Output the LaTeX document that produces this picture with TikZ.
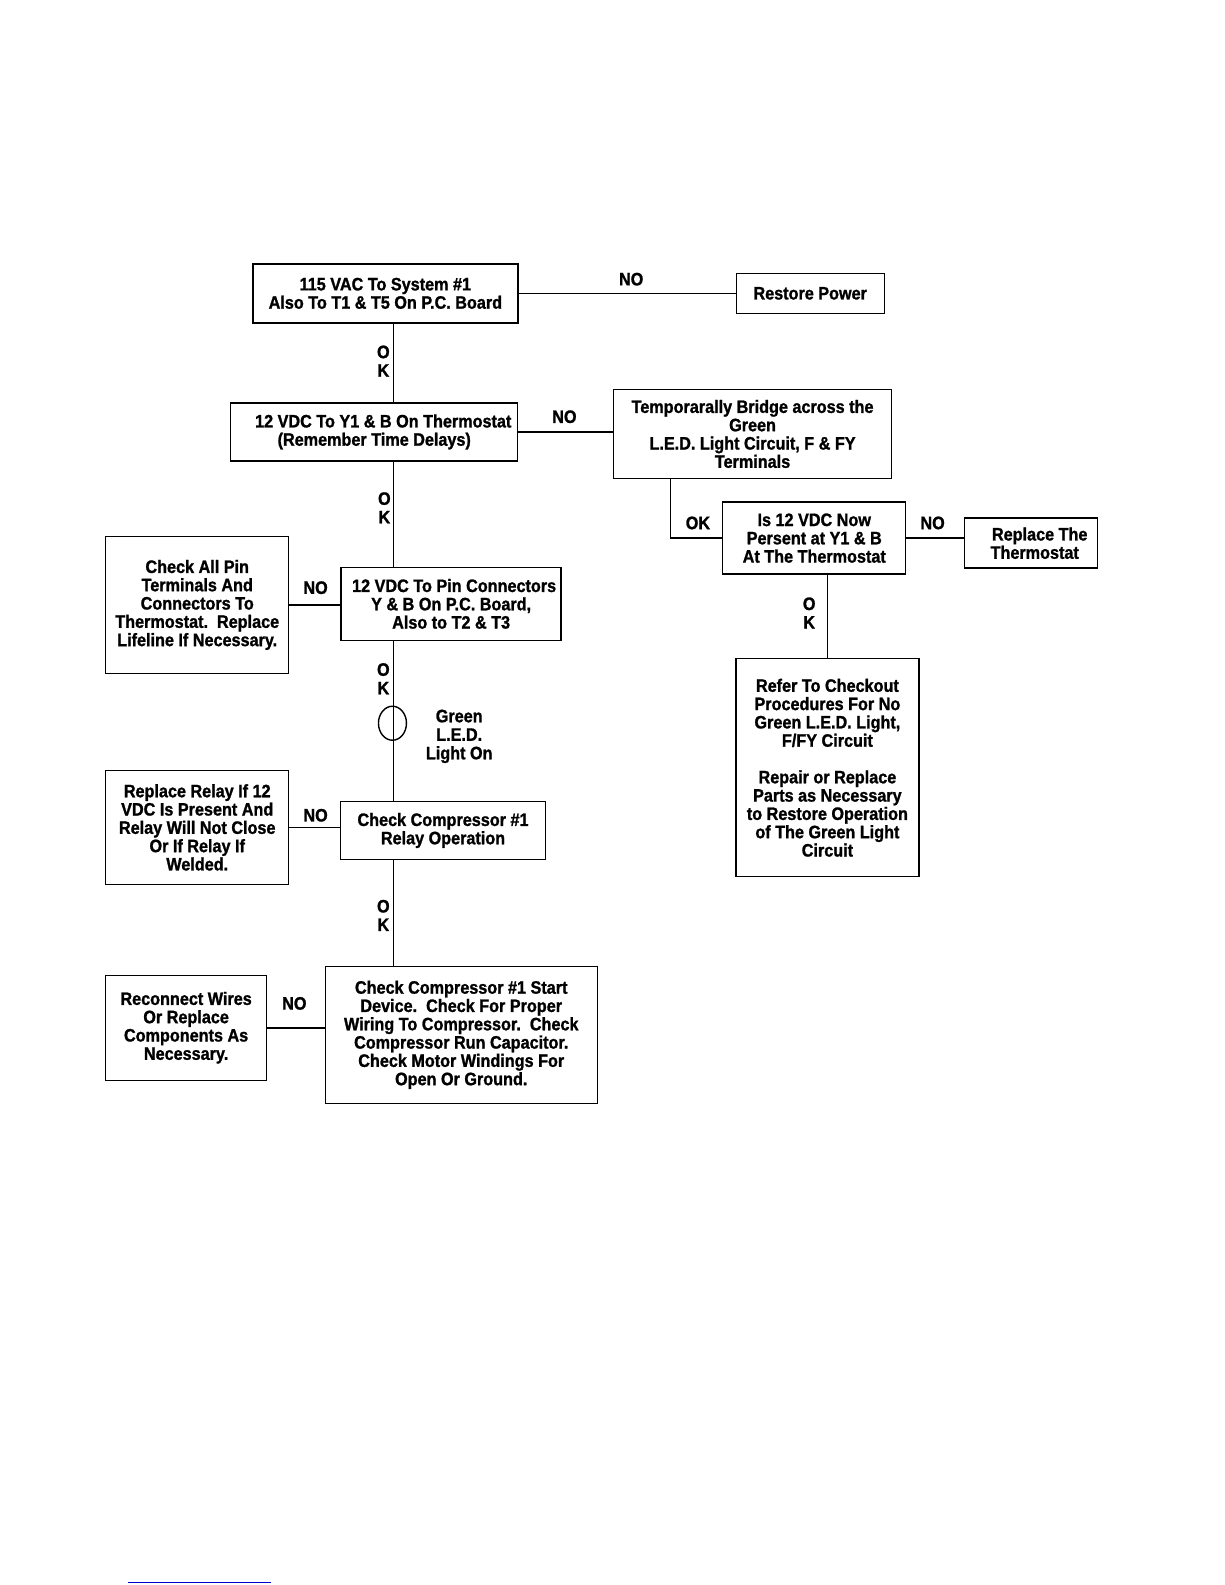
\documentclass[tikz,border=0pt]{standalone}
\usepackage{fontspec}
\setmainfont{Liberation Sans}[FakeStretch=0.9, BoldFeatures={FakeBold=1.2}]
\usetikzlibrary{shapes.geometric}
\tikzset{
  box/.style = {draw=black, line width=1.4pt, align=center, inner sep=0pt,
    font=\fontsize{18}{18.3}\selectfont\bfseries},
  lbl/.style = {align=center, inner sep=0pt,
    font=\fontsize{18}{18.5}\selectfont\bfseries},
  wire/.style = {line width=1.6pt}
}
\begin{document}
\begin{tikzpicture}[x=1.0115pt,y=-1.0115pt]
\useasboundingbox[fill=white] (0pt,0pt) rectangle (1225pt,-1585pt);
% boxes
\node [box, minimum width=265, minimum height=59] (sys) at (381,290)
  {115 VAC To System \#1\\Also To T1 \& T5 On P.C. Board};
\node [box, minimum width=148, minimum height=40] (restore) at (801,290)
  {Restore Power};
\node [box, minimum width=287, minimum height=58] (vdc) at (370,427)
  {\hspace*{18pt}12 VDC To Y1 \& B On Thermostat\\(Remember Time Delays)};
\node [box, minimum width=278, minimum height=89] (bridge) at (744,429)
  {Temporarally Bridge across the\\Green\\L.E.D. Light Circuit, F \& FY\\Terminals};
\node [box, minimum width=183, minimum height=72] (isnow) at (805,532)
  {Is 12 VDC Now\\Persent at Y1 \& B\\At The Thermostat};
\node [box, minimum width=133, minimum height=50] (replth) at (1019,537)
  {\hspace*{18pt}Replace The\\\hspace*{8pt}Thermostat};
\node [box, minimum width=220, minimum height=73] (pin) at (446,597)
  {\hspace*{6pt}12 VDC To Pin Connectors\\Y \& B On P.C. Board,\\Also to T2 \& T3};
\node [box, minimum width=183, minimum height=137] (chkall) at (195,598)
  {Check All Pin\\Terminals And\\Connectors To\\Thermostat.\ \ Replace\\Lifeline If Necessary.};
\node [box, minimum width=183, minimum height=218] (refer) at (818,759)
  {Refer To Checkout\\Procedures For No\\Green L.E.D. Light,\\F/FY Circuit\\[18.3pt]Repair or Replace\\Parts as Necessary\\to Restore Operation\\of The Green Light\\Circuit};
\node [box, minimum width=205, minimum height=58] (relay) at (438,821)
  {Check Compressor \#1\\Relay Operation};
\node [box, minimum width=183, minimum height=114] (replrelay) at (195,818)
  {Replace Relay If 12\\VDC Is Present And\\Relay Will Not Close\\Or If Relay If\\Welded.};
\node [box, minimum width=272, minimum height=137] (start) at (456,1023)
  {Check Compressor \#1 Start\\Device.\ \ Check For Proper\\Wiring To Compressor.\ \ Check\\Compressor Run Capacitor.\\Check Motor Windings For\\Open Or Ground.};
\node [box, minimum width=161, minimum height=105] (reconnect) at (184,1016)
  {Reconnect Wires\\Or Replace\\Components As\\Necessary.};
% main line
\coordinate (spine) at (389,0);
\draw [wire] (spine |- sys.south) -- (spine |- vdc.north);
\draw [wire] (spine |- vdc.south) -- (spine |- pin.north);
\draw [wire] (spine |- pin.south) -- (spine |- relay.north);
\draw [wire] (spine |- relay.south) -- (spine |- start.north);
\node [draw=black, line width=1.4pt, ellipse, minimum width=28, minimum height=34,
  inner sep=0pt] (led) at (388,715) {};
% side lines
\draw [wire] (sys.east) -- (sys.east -| restore.west);
\draw [wire] (vdc.east) -- (vdc.east -| bridge.west);
\draw [wire] ([xshift=-82]bridge.south) |- (isnow.west);
\draw [wire] (isnow.east) -- (isnow.east -| replth.west);
\draw [wire] (refer.north) -- (refer.north |- isnow.south);
\draw [wire] (chkall.east) -- (chkall.east -| pin.west);
\draw [wire] (replrelay.east) -- (replrelay.east -| relay.west);
\draw [wire] (reconnect.east) -- (reconnect.east -| start.west);
% labels
\node [lbl] (no1) at (624,276) {NO};
\node [lbl] (ok1) at (379,357) {O\\K};
\node [lbl] (no2) at (558,412) {NO};
\node [lbl] (ok2) at (380,502) {O\\K};
\node [lbl] (ok3) at (690,517) {OK};
\node [lbl] (no3) at (922,517) {NO};
\node [lbl] (ok4) at (800,606) {O\\K};
\node [lbl] (no4) at (312,581) {NO};
\node [lbl] (ok5) at (379,671) {O\\K};
\node [lbl] (ledtxt) at (454,728) {Green\\L.E.D.\\Light On};
\node [lbl] (no5) at (312,806) {NO};
\node [lbl] (ok6) at (379,905) {O\\K};
\node [lbl] (no6) at (291,992) {NO};
\draw [blue!80!black, line width=1pt] (127,1564) -- (268,1564);
\end{tikzpicture}
\end{document}
